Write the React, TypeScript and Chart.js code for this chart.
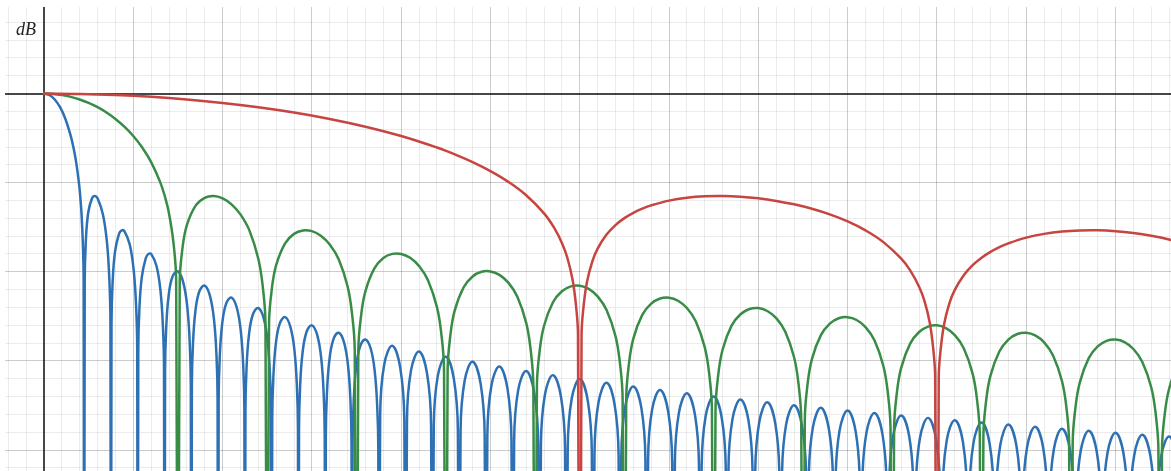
import React, { useEffect, useRef } from "react";
import { Chart, registerables } from "chart.js";

Chart.register(...registerables);

// Horizontal axis (grid units) and vertical axis (dB)
const X_MIN = -0.4367;
const X_MAX = 12.621;
const Y_MIN = -84.7;
const Y_MAX = 19.42;
const X_MINOR_STEP = 0.2;
const X_MAJOR_STEP = 1;
const Y_MINOR_STEP = 4;
const Y_MAJOR_STEP = 20;
const AXIS_LABEL = "dB";

// Red curve (widest main lobe)
const redX = [
  0, 0.4, 0.8, 1.2, 1.6, 2.0, 2.4, 2.8, 3.2, 3.6, 4.0, 4.4, 4.6, 4.8, 5.0, 5.2, 5.4, 5.6, 5.72, 5.8, 5.86, 5.92, 5.96, 5.98, 6.0,
  6.02, 6.04, 6.08, 6.14, 6.2, 6.3, 6.4, 6.5, 6.6, 6.7, 6.8, 7.0, 7.2, 7.4, 7.6, 7.8, 8.0, 8.2, 8.4, 8.6, 8.8, 9.0, 9.2, 9.4, 9.6, 9.7, 9.8, 9.86, 9.92, 9.96, 9.98, 10.0,
  10.02, 10.04, 10.08, 10.14, 10.2, 10.3, 10.4, 10.5, 10.6, 10.7, 10.8, 11.0, 11.2, 11.4, 11.6, 11.8, 12.0, 12.2, 12.4, 12.6, 12.8, 13.2,
];
const redDb = [
  0, -0.08, -0.33, -0.74, -1.33, -2.1, -3.07, -4.26, -5.7, -7.44, -9.54, -12.12, -13.65, -15.39, -17.41, -19.82, -22.83, -26.9, -30.35, -33.51, -36.79, -41.84, -47.99, -54.07, -200,
  -54.21, -48.25, -42.36, -37.7, -34.81, -31.65, -29.51, -27.95, -26.76, -25.83, -25.09, -24.03, -23.39, -23.07, -23.01, -23.16, -23.52, -24.09, -24.86, -25.86, -27.12, -28.7, -30.71, -33.34, -37.06, -39.69, -43.35, -46.54, -51.5, -57.59, -63.65, -200,
  -63.72, -57.74, -51.79, -47.05, -44.07, -40.78, -38.51, -36.83, -35.52, -34.47, -33.61, -32.33, -31.49, -30.96, -30.72, -30.69, -30.88, -31.29, -31.91, -32.75, -33.87, -37.2,
];

// Green curve
const greenX = [
  0, 0.1, 0.2, 0.3, 0.4, 0.5, 0.6, 0.7, 0.8, 0.9, 1.0, 1.1, 1.2, 1.3, 1.35, 1.4, 1.45, 1.48, 1.5,
  1.52, 1.55, 1.6, 1.7, 1.8, 1.9, 2.0, 2.1, 2.2, 2.3, 2.4, 2.45, 2.48, 2.5,
  2.52, 2.55, 2.6, 2.7, 2.8, 2.9, 3.0, 3.1, 3.2, 3.3, 3.4, 3.45, 3.48, 3.5,
  3.52, 3.55, 3.6, 3.7, 3.8, 3.9, 4.0, 4.1, 4.2, 4.3, 4.4, 4.45, 4.48, 4.5,
  4.52, 4.55, 4.6, 4.7, 4.8, 4.9, 5.0, 5.1, 5.2, 5.3, 5.4, 5.45, 5.48, 5.5,
  5.52, 5.55, 5.6, 5.7, 5.8, 5.9, 6.0, 6.1, 6.2, 6.3, 6.4, 6.45, 6.48, 6.5,
  6.52, 6.55, 6.6, 6.7, 6.8, 6.9, 7.0, 7.1, 7.2, 7.3, 7.4, 7.45, 7.48, 7.5,
  7.52, 7.55, 7.6, 7.7, 7.8, 7.9, 8.0, 8.1, 8.2, 8.3, 8.4, 8.45, 8.48, 8.5,
  8.52, 8.55, 8.6, 8.7, 8.8, 8.9, 9.0, 9.1, 9.2, 9.3, 9.4, 9.45, 9.48, 9.5,
  9.52, 9.55, 9.6, 9.7, 9.8, 9.9, 10.0, 10.1, 10.2, 10.3, 10.4, 10.45, 10.48, 10.5,
  10.52, 10.55, 10.6, 10.7, 10.8, 10.9, 11.0, 11.1, 11.2, 11.3, 11.4, 11.45, 11.48, 11.5,
  11.52, 11.55, 11.6, 11.7, 11.8, 11.9, 12.0, 12.1, 12.2, 12.3, 12.4, 12.45, 12.48, 12.5,
  12.52, 12.55, 12.6, 12.7, 12.8,
];
const greenDb = [
  0, -0.08, -0.33, -0.74, -1.33, -2.1, -3.07, -4.26, -5.7, -7.44, -9.54, -12.12, -15.39, -19.82, -22.83, -26.9, -33.51, -41.84, -200,
  -42.36, -34.81, -29.51, -25.09, -23.39, -23.01, -23.52, -24.86, -27.12, -30.71, -37.06, -43.35, -51.5, -200,
  -51.79, -44.07, -38.51, -33.61, -31.49, -30.72, -30.88, -31.91, -33.87, -37.2, -43.31, -49.48, -57.56, -200,
  -57.77, -49.99, -44.32, -39.23, -36.92, -35.98, -35.99, -36.86, -38.69, -41.88, -47.87, -53.98, -62.02, -200,
  -62.2, -54.38, -48.66, -43.46, -41.04, -40.0, -39.91, -40.69, -42.43, -45.54, -51.45, -57.52, -65.54, -200,
  -65.7, -57.87, -52.11, -46.84, -44.36, -43.26, -43.11, -43.84, -45.52, -48.58, -54.43, -60.48, -68.49, -200,
  -68.61, -60.76, -54.98, -49.66, -47.14, -45.99, -45.8, -46.49, -48.13, -51.15, -56.97, -62.99, -70.99, -200,
  -71.1, -63.23, -57.44, -52.09, -49.53, -48.35, -48.13, -48.79, -50.4, -53.39, -59.18, -65.19, -73.18, -200,
  -73.27, -65.4, -59.59, -54.21, -51.63, -50.43, -50.18, -50.81, -52.4, -55.37, -61.14, -67.14, -75.12, -200,
  -75.21, -67.33, -61.51, -56.11, -53.51, -52.29, -52.02, -52.63, -54.2, -57.15, -62.9, -68.9, -76.88, -200,
  -76.95, -69.06, -63.24, -57.82, -55.2, -53.96, -53.68, -54.28, -55.83, -58.77, -64.5, -70.49, -78.46, -200,
  -78.52, -70.64, -64.8, -59.37, -56.74, -55.49, -55.19, -55.77, -57.32, -60.24, -65.96, -71.94, -79.91, -200,
  -79.98, -72.09, -66.25, -60.8, -58.16,
];

// Blue curve (narrowest main lobe)
const blueX = [
  0, 0.06, 0.12, 0.18, 0.24, 0.3, 0.33, 0.36, 0.39, 0.405, 0.42, 0.435, 0.444, 0.45,
  0.456, 0.468, 0.495, 0.54, 0.57, 0.6, 0.66, 0.705, 0.732, 0.744, 0.75,
  0.756, 0.768, 0.795, 0.84, 0.87, 0.9, 0.96, 1.005, 1.032, 1.044, 1.05,
  1.056, 1.068, 1.095, 1.14, 1.17, 1.2, 1.26, 1.305, 1.332, 1.344, 1.35,
  1.356, 1.368, 1.395, 1.44, 1.5, 1.56, 1.605, 1.632, 1.644, 1.65,
  1.656, 1.668, 1.695, 1.74, 1.8, 1.86, 1.905, 1.932, 1.944, 1.95,
  1.956, 1.968, 1.995, 2.04, 2.1, 2.16, 2.205, 2.232, 2.244, 2.25,
  2.256, 2.268, 2.295, 2.34, 2.4, 2.46, 2.505, 2.532, 2.544, 2.55,
  2.556, 2.568, 2.595, 2.64, 2.7, 2.76, 2.805, 2.832, 2.844, 2.85,
  2.856, 2.868, 2.895, 2.94, 3.0, 3.06, 3.105, 3.132, 3.144, 3.15,
  3.156, 3.168, 3.195, 3.24, 3.3, 3.36, 3.405, 3.432, 3.444, 3.45,
  3.456, 3.468, 3.495, 3.54, 3.6, 3.66, 3.705, 3.732, 3.744, 3.75,
  3.765, 3.81, 3.9, 3.99, 4.035, 4.05,
  4.065, 4.11, 4.2, 4.29, 4.335, 4.35,
  4.365, 4.41, 4.5, 4.59, 4.635, 4.65,
  4.665, 4.71, 4.8, 4.89, 4.935, 4.95,
  4.965, 5.01, 5.1, 5.19, 5.235, 5.25,
  5.265, 5.31, 5.4, 5.49, 5.535, 5.55,
  5.565, 5.61, 5.7, 5.79, 5.835, 5.85,
  5.865, 5.91, 6.0, 6.09, 6.135, 6.15,
  6.165, 6.21, 6.3, 6.39, 6.435, 6.45,
  6.465, 6.51, 6.6, 6.69, 6.735, 6.75,
  6.765, 6.81, 6.9, 6.99, 7.035, 7.05,
  7.065, 7.11, 7.2, 7.29, 7.335, 7.35,
  7.365, 7.41, 7.5, 7.59, 7.635, 7.65,
  7.665, 7.71, 7.8, 7.89, 7.935, 7.95,
  7.965, 8.01, 8.1, 8.19, 8.235, 8.25,
  8.265, 8.31, 8.4, 8.49, 8.535, 8.55,
  8.565, 8.61, 8.7, 8.79, 8.835, 8.85,
  8.865, 8.91, 9.0, 9.09, 9.135, 9.15,
  9.165, 9.21, 9.3, 9.39, 9.435, 9.45,
  9.465, 9.51, 9.6, 9.69, 9.735, 9.75,
  9.765, 9.81, 9.9, 9.99, 10.035, 10.05,
  10.065, 10.11, 10.2, 10.29, 10.335, 10.35,
  10.365, 10.41, 10.5, 10.59, 10.635, 10.65,
  10.665, 10.71, 10.8, 10.89, 10.935, 10.95,
  10.965, 11.01, 11.1, 11.19, 11.235, 11.25,
  11.265, 11.31, 11.4, 11.49, 11.535, 11.55,
  11.565, 11.61, 11.7, 11.79, 11.835, 11.85,
  11.865, 11.91, 12.0, 12.09, 12.135, 12.15,
  12.165, 12.21, 12.3, 12.39, 12.435, 12.45,
  12.465, 12.51, 12.6, 12.69, 12.735, 12.75,
];
const blueDb = [
  0, -0.33, -1.33, -3.07, -5.7, -9.54, -12.12, -15.39, -19.82, -22.83, -26.9, -33.51, -41.84, -200,
  -42.36, -33.37, -26.76, -23.39, -23.01, -23.52, -27.12, -33.34, -41.71, -51.5, -200,
  -51.79, -42.58, -35.52, -31.49, -30.72, -30.88, -33.87, -39.71, -47.87, -57.56, -200,
  -57.77, -48.48, -41.23, -36.93, -35.98, -35.99, -38.69, -44.33, -52.38, -62.03, -200,
  -62.2, -52.86, -45.51, -41.04, -39.91, -42.43, -47.95, -55.93, -65.54, -200,
  -65.7, -56.34, -48.93, -44.36, -43.11, -45.52, -50.96, -58.89, -68.49, -200,
  -68.61, -59.22, -51.77, -47.14, -45.8, -48.13, -53.51, -61.41, -70.99, -200,
  -71.1, -61.7, -54.21, -49.53, -48.13, -50.4, -55.73, -63.61, -73.18, -200,
  -73.27, -63.86, -56.35, -51.63, -50.18, -52.4, -57.7, -65.56, -75.12, -200,
  -75.21, -65.79, -58.26, -53.51, -52.02, -54.2, -59.48, -67.32, -76.87, -200,
  -76.95, -67.52, -59.98, -55.2, -53.68, -55.83, -61.08, -68.91, -78.46, -200,
  -78.52, -69.09, -61.54, -56.74, -55.19, -57.32, -62.55, -70.37, -79.91, -200,
  -72.09, -60.8, -56.59, -61.61, -73.29, -200,
  -73.42, -62.12, -57.88, -62.87, -74.54, -200,
  -74.66, -63.35, -59.08, -64.04, -75.7, -200,
  -75.81, -64.49, -60.2, -65.14, -76.79, -200,
  -76.89, -65.56, -61.25, -66.17, -77.81, -200,
  -77.92, -66.58, -62.25, -67.16, -78.79, -200,
  -78.88, -67.53, -63.19, -68.08, -79.71, -200,
  -79.8, -68.44, -64.08, -68.96, -80.58, -200,
  -80.65, -69.29, -64.92, -69.79, -81.4, -200,
  -81.48, -70.11, -65.73, -70.59, -82.19, -200,
  -82.28, -70.9, -66.51, -71.36, -82.96, -200,
  -83.03, -71.65, -67.25, -72.09, -83.68, -200,
  -83.75, -72.37, -67.96, -72.79, -84.38, -200,
  -84.45, -73.06, -68.64, -73.46, -85.05, -200,
  -85.11, -73.72, -69.29, -74.1, -85.69, -200,
  -85.75, -74.35, -69.92, -74.73, -86.31, -200,
  -86.37, -74.97, -70.53, -75.33, -86.91, -200,
  -86.97, -75.57, -71.12, -75.91, -87.49, -200,
  -87.55, -76.14, -71.69, -76.48, -88.05, -200,
  -88.11, -76.71, -72.25, -77.03, -88.6, -200,
  -88.65, -77.24, -72.78, -77.56, -89.13, -200,
  -89.18, -77.77, -73.3, -78.07, -89.64, -200,
  -89.69, -78.27, -73.8, -78.57, -90.13, -200,
  -90.18, -78.76, -74.29, -79.05, -90.62, -200,
  -90.67, -79.25, -74.77, -79.53, -91.09, -200,
  -91.13, -79.71, -75.23, -79.99, -91.55, -200,
  -91.59, -80.17, -75.68, -80.43, -91.99, -200,
  -92.03, -80.61, -76.12, -80.87, -92.42, -200,
  -92.47, -81.04, -76.55, -81.3, -92.85, -200,
  -92.89, -81.47, -76.97, -81.71, -93.27, -200,
];

const RED = "#c74440";
const GREEN = "#388c46";
const BLUE = "#2d70b3";

const toPoints = (xs: number[], ys: number[]) => xs.map((x, i) => ({ x, y: ys[i] }));

const isMultiple = (v: number, step: number) => Math.abs(v / step - Math.round(v / step)) < 1e-6;

function gridStyle(major: number) {
  return {
    drawTicks: false,
    color: (ctx: any) => {
      const v = ctx.tick ? ctx.tick.value : 1;
      if (Math.abs(v) < 1e-9) return "rgba(0,0,0,0.72)";
      if (isMultiple(v, major)) return "rgba(0,0,0,0.2)";
      return "rgba(0,0,0,0.075)";
    },
    lineWidth: (ctx: any) => {
      const v = ctx.tick ? ctx.tick.value : 1;
      return Math.abs(v) < 1e-9 ? 2 : 1;
    },
  };
}

export default function App() {
  const canvasRef = useRef<HTMLCanvasElement | null>(null);

  useEffect(() => {
    const canvas = canvasRef.current;
    if (!canvas) return;
    const lineStyle = {
      borderWidth: 2.5,
      pointRadius: 0,
      fill: false,
      tension: 0.4,
      cubicInterpolationMode: "default" as const,
      capBezierPoints: false,
      borderJoinStyle: "round" as const,
      borderCapStyle: "round" as const,
    };
    const chart = new Chart(canvas, {
      type: "line",
      data: {
        datasets: [
          { ...lineStyle, label: "red", data: toPoints(redX, redDb), borderColor: RED },
          { ...lineStyle, label: "green", data: toPoints(greenX, greenDb), borderColor: GREEN },
          { ...lineStyle, label: "blue", data: toPoints(blueX, blueDb), borderColor: BLUE },
        ],
      },
      options: {
        animation: false,
        responsive: false,
        devicePixelRatio: 1,
        events: [],
        layout: { padding: { left: 5, top: 7, right: 0, bottom: 0 } },
        elements: { point: { radius: 0 }, line: { capBezierPoints: false } },
        plugins: {
          legend: { display: false },
          tooltip: { enabled: false },
          title: { display: false },
        },
        scales: {
          x: {
            type: "linear",
            min: X_MIN,
            max: X_MAX,
            border: { display: false },
            grid: gridStyle(X_MAJOR_STEP),
            ticks: {
              display: false,
              stepSize: X_MINOR_STEP,
              includeBounds: false,
              maxTicksLimit: 1000,
              autoSkip: false,
            },
          },
          y: {
            type: "linear",
            min: Y_MIN,
            max: Y_MAX,
            border: { display: false },
            grid: gridStyle(Y_MAJOR_STEP),
            ticks: {
              display: false,
              stepSize: Y_MINOR_STEP,
              includeBounds: false,
              maxTicksLimit: 1000,
              autoSkip: false,
            },
          },
        },
      },
    } as any);
    return () => chart.destroy();
  }, []);

  return (
    <div
      style={{
        position: "absolute",
        left: 0,
        top: 0,
        width: 1171,
        height: 471,
        background: "#ffffff",
        overflow: "hidden",
      }}
    >
      <canvas ref={canvasRef} width={1171} height={471} style={{ display: "block" }} />
      <span
        style={{
          position: "absolute",
          left: 16,
          top: 20,
          fontFamily: "'Liberation Serif', 'DejaVu Serif', serif",
          fontStyle: "italic",
          fontSize: 18,
          lineHeight: 1,
          color: "#222222",
        }}
      >
        {AXIS_LABEL}
      </span>
    </div>
  );
}
